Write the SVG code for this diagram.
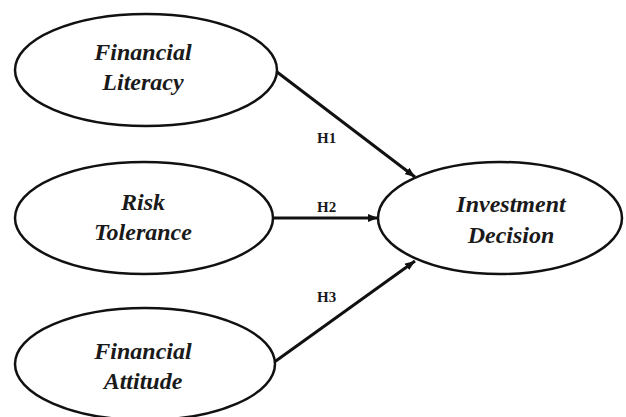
<svg xmlns="http://www.w3.org/2000/svg" width="626" height="417" viewBox="0 0 626 417">
<style>
.node ellipse{fill:#fff;stroke:#111;stroke-width:2.5}
.node text{font-family:"Liberation Serif","Times New Roman",serif;font-weight:bold;font-style:italic;font-size:24px;fill:#1a1a1a;text-anchor:middle}
.edge{stroke:#111;stroke-width:3;fill:none;marker-end:url(#arr)}
.lbl{font-family:"Liberation Serif","Times New Roman",serif;font-weight:bold;font-size:15px;fill:#1a1a1a}
</style>
<defs>
<marker id="arr" viewBox="0 0 10 8" refX="10" refY="4" markerWidth="10" markerHeight="8" markerUnits="userSpaceOnUse" orient="auto">
<path d="M0,0 L10,4 L0,8 z" fill="#111"/>
</marker>
</defs>
<rect width="626" height="417" fill="#fff"/>
<g id="connectors">
<line class="edge" x1="277" y1="72" x2="415" y2="177"/>
<line class="edge" x1="273" y1="218" x2="378" y2="218"/>
<line class="edge" x1="273" y1="363" x2="415" y2="261"/>
<text class="lbl" x="317" y="143">H1</text>
<text class="lbl" x="317" y="212">H2</text>
<text class="lbl" x="317" y="302">H3</text>
</g>
<g id="financial-literacy" class="node">
<ellipse cx="146" cy="70" rx="131" ry="56"/>
<text x="143" y="60">Financial</text>
<text x="143" y="90">Literacy</text>
</g>
<g id="risk-tolerance" class="node">
<ellipse cx="144" cy="218" rx="129" ry="56"/>
<text x="143" y="210">Risk</text>
<text x="143" y="240">Tolerance</text>
</g>
<g id="financial-attitude" class="node">
<ellipse cx="145" cy="364" rx="130" ry="56"/>
<text x="143" y="359">Financial</text>
<text x="143" y="389">Attitude</text>
</g>
<g id="investment-decision" class="node">
<ellipse cx="500" cy="218" rx="122" ry="56"/>
<text x="511" y="212">Investment</text>
<text x="511" y="243">Decision</text>
</g>
</svg>
